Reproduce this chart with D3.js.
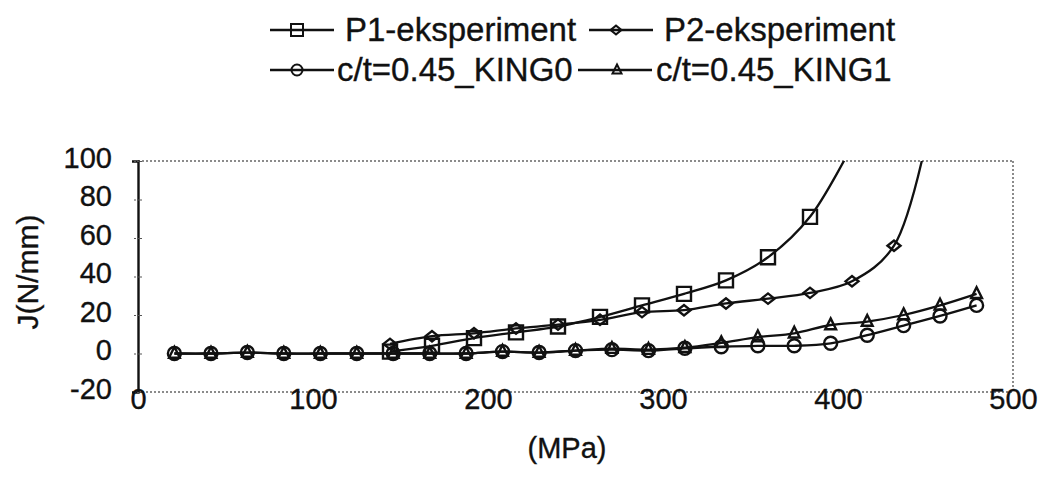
<!DOCTYPE html>
<html>
<head>
<meta charset="utf-8">
<script src="https://cdn.jsdelivr.net/npm/d3@7"></script>
<style>
  body { margin: 0; background: #fff; }
  text { font-family: "Liberation Sans", Arial, sans-serif; fill: #111; stroke: #111; stroke-width: 0.35px; }
</style>
</head>
<body>
<script>
// stress steps of the KING runs and of the two experiments (MPa)
const kingX = [20.8, 41.7, 62.5, 83.3, 104.2, 125, 145.8, 166.7, 187.5, 208.3, 229.2, 250,
  270.8, 291.7, 312.5, 333.3, 354.2, 375, 395.8, 416.7, 437.5, 458.3, 479.2];
const king0 = [0, 0, 0.5, 0, 0, 0, 0, 0, 0, 1, 0.5, 1.5, 2, 1.5, 2.7, 3.5, 4, 4, 5.3, 9.5, 14.5, 19.5, 25];
const king1 = [0, 0, 0.5, 0, 0, 0, 0, 0, 0, 1, 0.5, 1.5, 2.5, 2, 3, 5.5, 8.5, 10.5, 14.8, 16.6, 20, 25, 31];

const p1X = [144, 168, 192, 216, 240, 264, 288, 312, 336, 360, 384, 408];
const p1 = [1, 4, 8, 11, 14, 19, 25, 31, 38, 50, 71, 108];
const p2X = [144, 168, 192, 216, 240, 264, 288, 312, 336, 360, 384, 408, 432, 456];
const p2 = [5, 9, 10.5, 13, 15, 17.5, 21.5, 22.5, 26, 28.5, 31.5, 37.5, 56, 135];

const xTicks = [0, 100, 200, 300, 400, 500];
const yTicks = [-20, 0, 20, 40, 60, 80, 100];
const seriesNames = ['P1-eksperiment', 'P2-eksperiment', 'c/t=0.45_KING0', 'c/t=0.45_KING1'];

const width = 1043;
const height = 481;
const plotL = 138, plotR = 1013, plotT = 161, plotB = 392;

const svg = d3.select('body').append('svg')
  .attr('width', width)
  .attr('height', height);

const x = d3.scaleLinear().domain([0, 500]).range([plotL, plotR]);
const y = d3.scaleLinear().domain([-20, 100]).range([plotB, plotT]);

// marker shapes, unfilled like the original
const shapes = {
  square: s => `M${-s},${-s}H${s}V${s}H${-s}Z`,
  diamond: s => `M${-s},0L0,${-s * 0.8}L${s},0L0,${s * 0.8}Z`,
  circle: s => d3.arc()({innerRadius: 0, outerRadius: s, startAngle: 0, endAngle: 2 * Math.PI}),
  triangle: s => `M0,${-s * 1.1}L${s * 0.9},${s * 0.7}L${-s * 0.9},${s * 0.7}Z`
};

const series = [
  {name: seriesNames[0], xs: p1X, ys: p1, shape: 'square', size: 7},
  {name: seriesNames[1], xs: p2X, ys: p2, shape: 'diamond', size: 6.5},
  {name: seriesNames[2], xs: kingX, ys: king0, shape: 'circle', size: 6.5},
  {name: seriesNames[3], xs: kingX, ys: king1, shape: 'triangle', size: 6}
];

svg.append('clipPath').attr('id', 'plot')
  .append('rect')
  .attr('x', plotL).attr('y', plotT)
  .attr('width', plotR - plotL).attr('height', plotB - plotT);

// dotted frame: top, right and bottom
const frame = svg.append('g')
  .attr('fill', 'none')
  .attr('stroke', '#666')
  .attr('stroke-width', 1.5)
  .attr('stroke-dasharray', '2,2');
frame.append('line').attr('x1', plotL).attr('x2', plotR).attr('y1', y(100)).attr('y2', y(100));
frame.append('line').attr('x1', plotR).attr('x2', plotR).attr('y1', y(100)).attr('y2', y(-20));
frame.append('line').attr('x1', plotL).attr('x2', plotR).attr('y1', y(-20)).attr('y2', y(-20));

// y axis: solid line, small ticks, big labels
const yAxis = d3.axisLeft(y).tickValues(yTicks).tickSize(6).tickPadding(20)
  .tickFormat(d => String(d));
svg.append('g')
  .attr('transform', `translate(${plotL},0)`)
  .call(yAxis)
  .call(g => g.select('.domain').attr('stroke', '#111').attr('stroke-width', 2.4))
  .call(g => g.selectAll('.tick line').attr('stroke', '#555').attr('stroke-dasharray', '2,1')
    .attr('x2', 8).attr('transform', 'translate(-4,0)'))
  .call(g => g.selectAll('.tick text')
    .style('font-size', '29px')
    .attr('fill', '#111')
    .attr('dy', '0.22em'));

// x axis labels sit on the -20 line
const xAxis = d3.axisBottom(x).tickValues(xTicks).tickSize(0).tickPadding(0);
svg.append('g')
  .attr('transform', `translate(0,${plotB})`)
  .call(xAxis)
  .call(g => g.select('.domain').remove())
  .call(g => g.selectAll('.tick text')
    .style('font-size', '29px')
    .attr('fill', '#111')
    .attr('y', -9)
    .attr('dy', '0.9em'));

svg.append('text')
  .attr('x', 567)
  .attr('y', 458)
  .attr('text-anchor', 'middle')
  .style('font-size', '29px')
  .text('(MPa)');

svg.append('text')
  .attr('transform', 'translate(38,272) rotate(-90)')
  .attr('text-anchor', 'middle')
  .style('font-size', '30px')
  .text('J(N/mm)');

// curves and markers
const line = d3.line()
  .x(d => x(d[0]))
  .y(d => y(d[1]))
  .curve(d3.curveCatmullRom.alpha(0.5));

const plot = svg.append('g').attr('clip-path', 'url(#plot)');

series.forEach(s => {
  const pts = s.xs.map((v, i) => [v, s.ys[i]]);
  plot.append('path')
    .datum(pts)
    .attr('d', line)
    .attr('fill', 'none')
    .attr('stroke', '#111')
    .attr('stroke-width', 2.3);
  plot.append('g')
    .selectAll('path')
    .data(pts)
    .join('path')
    .attr('transform', d => `translate(${x(d[0])},${y(d[1])})`)
    .attr('d', shapes[s.shape](s.size))
    .attr('fill', 'none')
    .attr('stroke', '#111')
    .attr('stroke-width', 2.4);
});

// legend, two rows of two entries
const legendPos = [[270, 41], [589, 41], [270, 81], [578, 81]];
const legend = svg.append('g');
series.forEach((s, i) => {
  const [lx, ly] = legendPos[i];
  const g = legend.append('g').attr('transform', `translate(${lx},${ly - 11})`);
  g.append('line')
    .attr('x1', 0).attr('x2', i === 3 ? 74 : 64)
    .attr('stroke', '#111').attr('stroke-width', 2.4);
  g.append('path')
    .attr('transform', `translate(${i === 3 ? 39 : 27},0)`)
    .attr('d', shapes[s.shape](s.size - 1))
    .attr('fill', 'none')
    .attr('stroke', '#111')
    .attr('stroke-width', 2);
  g.append('text')
    .attr('x', i === 3 ? 78 : (i === 2 ? 67 : 75))
    .attr('y', 11)
    .style('font-size', '33px')
    .text(s.name);
});
</script>
</body>
</html>
